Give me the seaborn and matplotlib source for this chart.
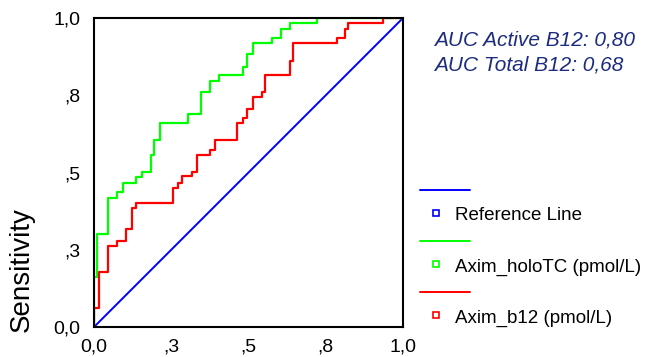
import matplotlib
matplotlib.use("Agg")
import matplotlib.pyplot as plt
from matplotlib.lines import Line2D
import seaborn as sns

# ROC curve data (false positive rate, sensitivity)
ref_fpr = [0.0, 1.0]
ref_tpr = [0.0, 1.0]

holotc_fpr = [0, 0, .010, .045, .074, .094, .136, .155, .184, .194, .214, .304, .346,
              .375, .405, .482, .495, .515, .576, .605, .634, .722, 1.0]
holotc_tpr = [0, .162, .301, .417, .437, .466, .485, .502, .557, .605, .660, .689, .761,
              .796, .816, .841, .883, .919, .935, .964, .984, 1.0, 1.0]

b12_fpr = [0, 0, .016, .045, .074, .104, .123, .136, .256, .272, .285, .317, .333, .375,
           .392, .463, .482, .495, .515, .544, .553, .634, .644, .786, .812, .822, .935, 1.0]
b12_tpr = [0, .061, .178, .262, .278, .317, .385, .401, .450, .466, .489, .502, .557, .573,
           .605, .660, .676, .706, .744, .761, .816, .861, .919, .935, .964, .984, 1.0, 1.0]

tick_vals = [0, 0.25, 0.5, 0.75, 1.0]
tick_labels = ["0,0", ",3", ",5", ",8", "1,0"]
legend_labels = ["Reference Line", "Axim_holoTC (pmol/L)", "Axim_b12 (pmol/L)"]
legend_colors = ["#0000ff", "#00ff00", "#ff0000"]
auc_lines = ["AUC Active B12: 0,80", "AUC Total B12: 0,68"]

sns.set_style("white")
plt.rcParams["font.family"] = ["Liberation Sans", "DejaVu Sans"]

W, H = 652, 357
fig = plt.figure(figsize=(W / 100, H / 100), dpi=100)
ax = fig.add_axes([94 / W, 1 - 327 / H, 309 / W, 309 / H])


def fp(x, y):
    # pixel position -> figure fraction
    return x / W, 1 - y / H


sns.lineplot(x=ref_fpr, y=ref_tpr, ax=ax, color=legend_colors[0], linewidth=1.4,
             estimator=None, sort=False)
sns.lineplot(x=holotc_fpr, y=holotc_tpr, ax=ax, color=legend_colors[1], linewidth=1.6,
             estimator=None, sort=False, drawstyle="steps-post")
sns.lineplot(x=b12_fpr, y=b12_tpr, ax=ax, color=legend_colors[2], linewidth=1.6,
             estimator=None, sort=False, drawstyle="steps-post")

ax.set_xlim(0, 1)
ax.set_ylim(0, 1)
ax.set_xticks(tick_vals)
ax.set_xticklabels(tick_labels)
ax.set_yticks(tick_vals)
ax.set_yticklabels(tick_labels)
ax.tick_params(axis="both", direction="out", length=3, width=3, color="black",
               labelsize=14, labelcolor="black")
ax.tick_params(axis="x", pad=5)
ax.tick_params(axis="y", pad=7)
ax.set_xlabel("")
ax.set_ylabel("")
for s in ax.spines.values():
    s.set_color("black")
    s.set_linewidth(1.5)
    s.set_visible(True)

fig.text(*fp(22, 270), "Sensitivity", rotation=90, ha="center", va="center",
         fontsize=20, color="black")

# AUC annotation
for i, line in enumerate(auc_lines):
    fig.text(*fp(434, 40 + i * 25), line, ha="left", va="center", fontsize=15,
             style="italic", color="#1c2c80")

# SPSS style legend: line sample, then small square with label
for i, (lab, col) in enumerate(zip(legend_labels, legend_colors)):
    y0 = 190 + i * 51
    x1, y1 = fp(420, y0)
    x2, _ = fp(470, y0)
    fig.add_artist(Line2D([x1, x2], [y1, y1], transform=fig.transFigure,
                          color=col, linewidth=1.4))
    sx, sy = fp(436, y0 + 23)
    fig.add_artist(Line2D([sx], [sy], transform=fig.transFigure, marker="s",
                          markersize=4.5, markerfacecolor="white",
                          markeredgecolor=col, markeredgewidth=1.2, linestyle="none"))
    fig.text(*fp(455, y0 + 26), lab, ha="left", va="center", fontsize=13.5,
             color="black")

fig.savefig("out.png", dpi=100)
